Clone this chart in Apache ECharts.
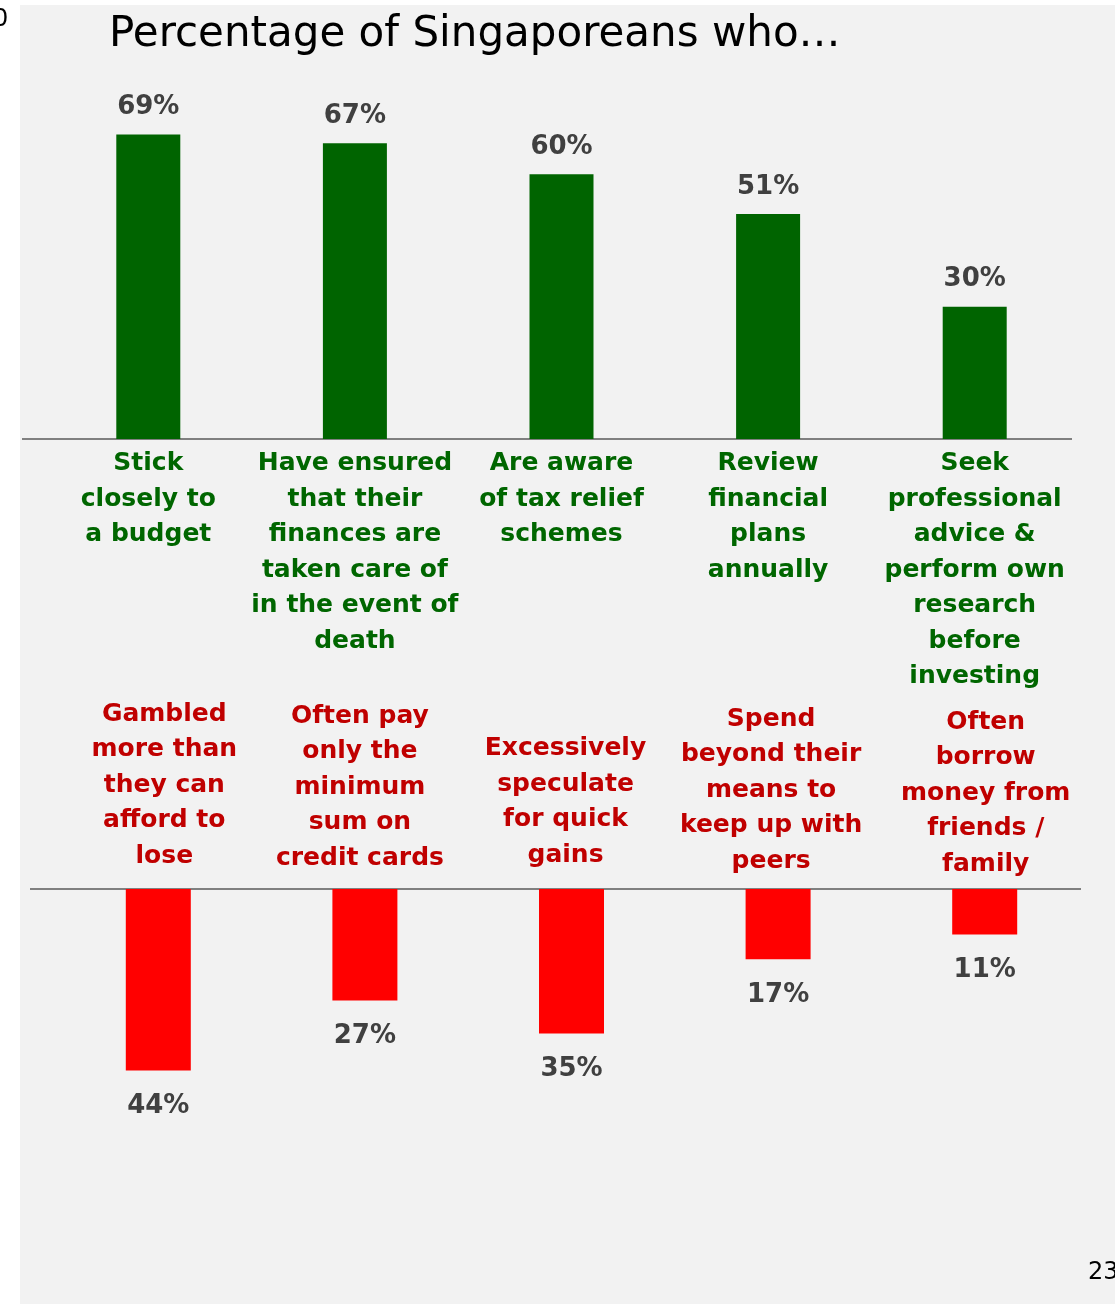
<!DOCTYPE html>
<html>
<head>
<meta charset="utf-8">
<script src="https://cdn.jsdelivr.net/npm/echarts@6/dist/echarts.min.js"></script>
<style>
  html, body { margin: 0; padding: 0; background: #ffffff; }
  #chart { width: 1115px; height: 1304px; }
</style>
</head>
<body>
<div id="chart"></div>
<script>
// Positive habits (top panel)
const goodCategories = [
  'Stick\nclosely to\na budget',
  'Have ensured\nthat their\nfinances are\ntaken care of\nin the event of\ndeath',
  'Are aware\nof tax relief\nschemes',
  'Review\nfinancial\nplans\nannually',
  'Seek\nprofessional\nadvice &\nperform own\nresearch\nbefore\ninvesting'
];
const goodValues = [69, 67, 60, 51, 30];

// Risky habits (bottom panel)
const badCategories = [
  'Gambled\nmore than\nthey can\nafford to\nlose',
  'Often pay\nonly the\nminimum\nsum on\ncredit cards',
  'Excessively\nspeculate\nfor quick\ngains',
  'Spend\nbeyond their\nmeans to\nkeep up with\npeers',
  'Often\nborrow\nmoney from\nfriends /\nfamily'
];
const badValues = [44, 27, 35, 17, 11];

// label box nudges for the lower panel: [horizontal shift, lift above axis] in px
const badLabelNudge = [[6, 8], [-5, 6], [-6, 9], [-7, 3], [1, 0]];

const FONT = '"DejaVu Sans", sans-serif';
const chart = echarts.init(document.getElementById('chart'), null, { renderer: 'canvas' });

const valueLabel = {
  show: true,
  formatter: p => p.value + '%',
  color: '#404040',
  fontFamily: FONT,
  fontWeight: 'bold',
  fontSize: 26
};

const badAxisData = badCategories.map((c, i) => {
  const dx = badLabelNudge[i][0], lift = badLabelNudge[i][1];
  return {
    value: c,
    textStyle: {
      padding: [0, Math.max(0, -dx * 2), lift, Math.max(0, dx * 2)]
    }
  };
});

chart.setOption({
  animation: false,
  backgroundColor: '#ffffff',
  title: {
    text: 'Percentage of Singaporeans who…',
    left: 104,
    top: 9,
    textStyle: { fontFamily: FONT, fontWeight: 'normal', fontSize: 42, color: '#000000' }
  },
  graphic: [
    { type: 'rect', z: -10, shape: { x: 20, y: 5, width: 1095, height: 1299 }, style: { fill: '#f2f2f2' } },
    { type: 'line', shape: { x1: 22, y1: 439, x2: 1072, y2: 439 }, style: { stroke: '#808080', lineWidth: 2 } },
    { type: 'line', shape: { x1: 30, y1: 889, x2: 1081, y2: 889 }, style: { stroke: '#808080', lineWidth: 2 } },
    { type: 'text', left: -7, top: 8, style: { text: '0', fontFamily: FONT, fontSize: 24, fill: '#000000' } },
    { type: 'text', left: 1088, top: 1261, style: { text: '23', fontFamily: FONT, fontSize: 24, fill: '#000000' } }
  ],
  grid: [
    { left: 45, width: 1033, top: 86, height: 353 },
    { left: 55, width: 1033, top: 889, height: 330 }
  ],
  xAxis: [
    {
      gridIndex: 0, type: 'category', data: goodCategories, position: 'bottom',
      axisLine: { show: false }, axisTick: { show: false },
      axisLabel: {
        interval: 0, margin: 7, color: '#006600', fontFamily: FONT, fontWeight: 'bold',
        fontSize: 25, lineHeight: 35.5, align: 'center'
      }
    },
    {
      gridIndex: 1, type: 'category', data: badAxisData, position: 'top',
      axisLine: { show: false }, axisTick: { show: false },
      axisLabel: {
        interval: 0, margin: 7, color: '#c00000', fontFamily: FONT, fontWeight: 'bold',
        fontSize: 25, lineHeight: 35.5, align: 'center'
      }
    }
  ],
  yAxis: [
    { gridIndex: 0, type: 'value', min: 0, max: 80, show: false, splitLine: { show: false } },
    { gridIndex: 1, type: 'value', min: 0, max: 80, inverse: true, show: false, splitLine: { show: false } }
  ],
  series: [
    {
      type: 'bar', xAxisIndex: 0, yAxisIndex: 0, data: goodValues, barWidth: 64,
      itemStyle: { color: '#006400' },
      label: Object.assign({ position: 'top', distance: 14 }, valueLabel)
    },
    {
      type: 'bar', xAxisIndex: 1, yAxisIndex: 1, data: badValues, barWidth: 65,
      itemStyle: { color: '#ff0000' },
      label: Object.assign({ position: 'bottom', distance: 23 }, valueLabel)
    }
  ]
});
</script>
</body>
</html>
